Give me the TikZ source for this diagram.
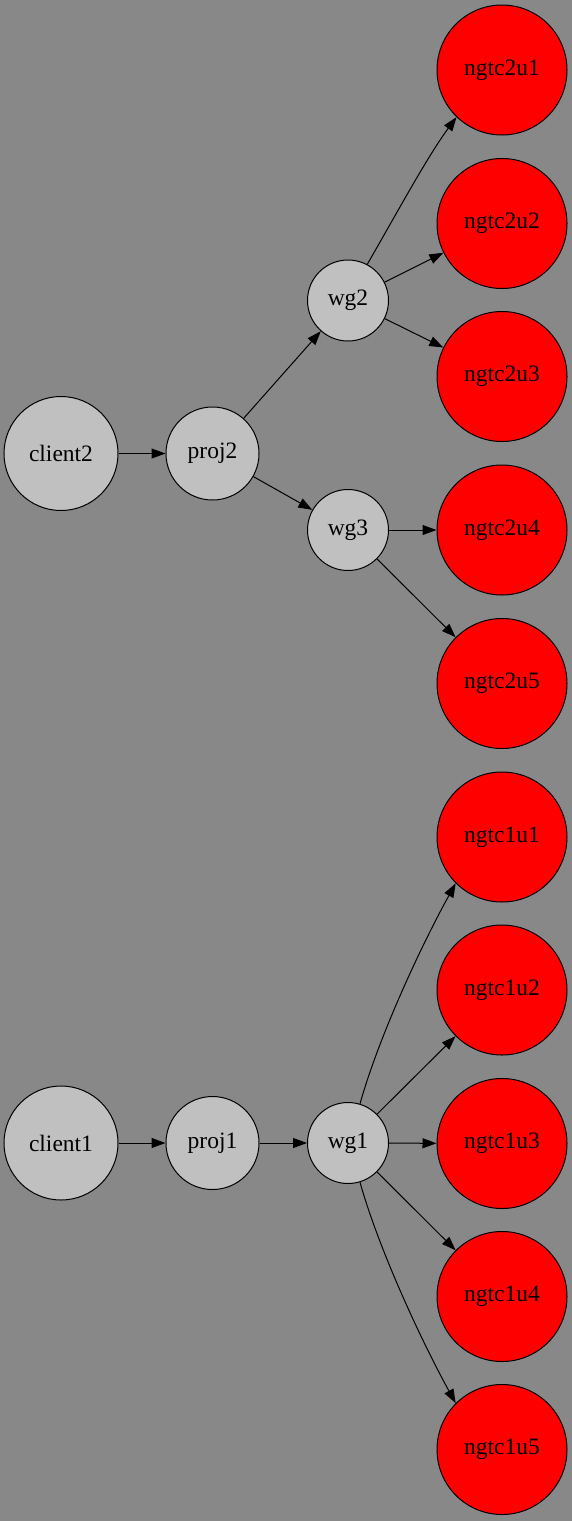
\documentclass[tikz,border=0pt]{standalone}
\usepackage{fontspec}
\setmainfont{Liberation Serif}
\usepackage{tikz}
\usetikzlibrary{arrows.meta}
\definecolor{ngbg}{RGB}{136,136,136}
\definecolor{ngcore}{RGB}{192,192,192}
\definecolor{ngusr}{RGB}{255,0,0}
\tikzset{
  ngbox/.style={
    circle, draw=black, line width=1pt, inner sep=0pt,
    align=center, font=\fontsize{23.5}{28}\selectfont
  },
  cli/.style={ngbox, fill=ngcore, minimum size=114pt},
  prj/.style={ngbox, fill=ngcore, minimum size=93pt},
  wg/.style={ngbox, fill=ngcore, minimum size=81pt},
  usr/.style={ngbox, fill=ngusr, minimum size=130pt},
  arr/.style={-{Triangle[length=14pt,width=10pt]}, draw=black, line width=1pt}
}

\begin{document}
\begin{tikzpicture}[x=1pt,y=-1pt]
  \fill[ngbg] (0,0) rectangle (572,1521);
  \useasboundingbox (0,0) rectangle (572,1521);

  \node[cli] (client2) at (61,453.5) {client2};
  \node[prj] (proj2) at (212.5,453.5) {proj2};
  \node[wg] (wg2) at (348,300.5) {wg2};
  \node[wg] (wg3) at (348,530) {wg3};

  \node[usr] (ngtc2u1) at (502,70) {ngtc2u1};
  \node[usr] (ngtc2u2) at (502,223.5) {ngtc2u2};
  \node[usr] (ngtc2u3) at (502,376.5) {ngtc2u3};
  \node[usr] (ngtc2u4) at (502,530) {ngtc2u4};
  \node[usr] (ngtc2u5) at (502,683.5) {ngtc2u5};

  \node[cli] (client1) at (61,1143) {client1};
  \node[prj] (proj1) at (212.5,1143) {proj1};
  \node[wg] (wg1) at (348,1143) {wg1};

  \node[usr] (ngtc1u1) at (502,837) {ngtc1u1};
  \node[usr] (ngtc1u2) at (502,990) {ngtc1u2};
  \node[usr] (ngtc1u3) at (502,1143.5) {ngtc1u3};
  \node[usr] (ngtc1u4) at (502,1296.5) {ngtc1u4};
  \node[usr] (ngtc1u5) at (502,1449.5) {ngtc1u5};

  \draw[arr] (client2) -- (proj2);
  \draw[arr] (proj2) -- (wg2);
  \draw[arr] (proj2) -- (wg3);
  \draw[arr] (wg2.62) .. controls (393,220) and (427,157) .. (ngtc2u1.226);
  \draw[arr] (wg2) -- (ngtc2u2);
  \draw[arr] (wg2) -- (ngtc2u3);
  \draw[arr] (wg3) -- (ngtc2u4);
  \draw[arr] (wg3) -- (ngtc2u5);

  \draw[arr] (client1) -- (proj1);
  \draw[arr] (proj1) -- (wg1);
  \draw[arr] (wg1.73) .. controls (379,1036) and (422,944) .. (ngtc1u1.225);
  \draw[arr] (wg1) -- (ngtc1u2);
  \draw[arr] (wg1) -- (ngtc1u3);
  \draw[arr] (wg1) -- (ngtc1u4);
  \draw[arr] (wg1.-73) .. controls (379,1250) and (422,1342) .. (ngtc1u5.135);
\end{tikzpicture}
\end{document}
